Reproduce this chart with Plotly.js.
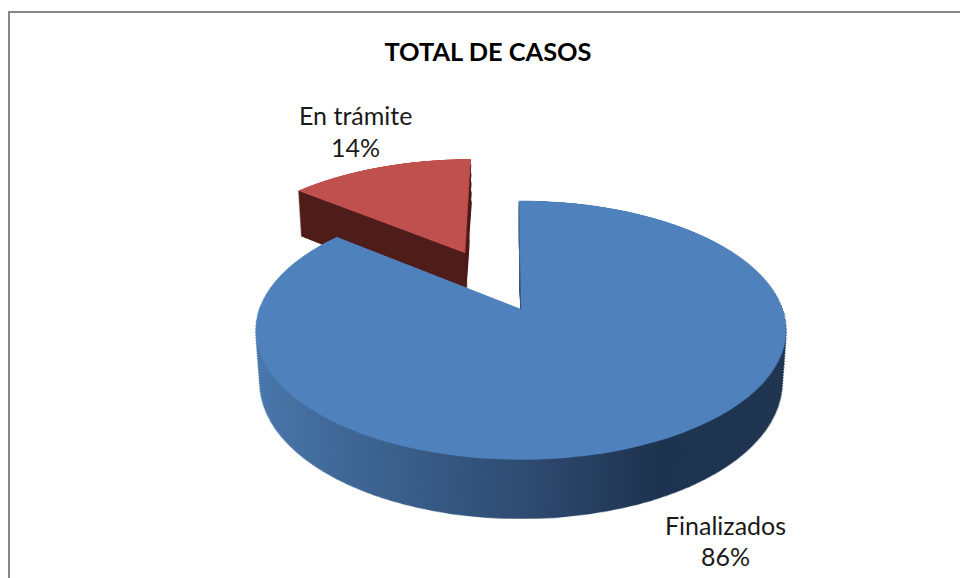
<!DOCTYPE html>
<html>
<head>
<meta charset="utf-8">
<script src="https://cdn.plot.ly/plotly-3.0.1.min.js"></script>
<style>
html,body{margin:0;padding:0;background:#fff;overflow:hidden;width:960px;height:578px}
#stage{position:relative;width:960px;height:578px;overflow:hidden}
#chart{position:absolute;left:0;top:0;width:960px;height:578px}
#pie{position:absolute;width:1000px;height:1000px;pointer-events:none}
</style>
</head>
<body>
<div id="stage"><div id="chart"></div><div id="pie"></div></div>
<script>
// Data
const categories = ["Finalizados", "En trámite"];
const values = [86, 14];
const percentLabels = ["86%", "14%"];
const titleText = "TOTAL DE CASOS";

// Styling
const topColors = ["#4f81bd", "#c0504d"];
const sideColors = ["#2f4c72", "#4f1e1b"];
const pullAmount = [0, 0.53];

// 3D look: the stack of pies is tilted with a CSS perspective
const tipX = 521, tipY = 309;      // screen position of the pie centre
const box = 1000, cx = 500, cy = 420;
const baseSize = 801, layers = 100, depth = 101, shrink = 0.077;
const pieDiv = document.getElementById('pie');
pieDiv.style.left = (tipX - cx) + 'px';
pieDiv.style.top = (tipY - cy) + 'px';
pieDiv.style.transformOrigin = cx + 'px ' + cy + 'px';
pieDiv.style.transform = 'perspective(1403px) rotateX(61.2deg)';

const traces = [];
for (let k = layers; k >= 0; k--) {
  const t = k / layers, s = depth * t, f = 1 - shrink * t, d = baseSize * f;
  traces.push({
    type: 'pie', values: values, labels: categories, sort: false,
    direction: 'clockwise', rotation: -0.5, pull: pullAmount, textinfo: 'none',
    hoverinfo: 'skip', showlegend: false,
    marker: {colors: k === 0 ? topColors : sideColors, line: {width: 0}},
    domain: {
      x: [(cx - d / 2) / box, (cx + d / 2) / box],
      y: [1 - (cy + s + d / 2) / box, 1 - (cy + s - d / 2) / box]
    }
  });
}

const textFont = {family: 'Lato, "Open Sans", sans-serif', size: 25, color: '#1a1a1a'};
const baseLayout = {
  width: 960, height: 578, margin: {l: 0, r: 0, t: 0, b: 0},
  paper_bgcolor: '#ffffff', plot_bgcolor: '#ffffff',
  xaxis: {visible: false, range: [0, 960]},
  yaxis: {visible: false, range: [578, 0]},
  title: {text: '<b>' + titleText + '</b>', x: 488 / 960, xanchor: 'center', xref: 'paper',
          y: 1 - 52 / 578, yanchor: 'middle', yref: 'container',
          font: {family: 'Lato, "Open Sans", sans-serif', size: 25.4, color: '#000000'}},
  showlegend: false,
  shapes: [
    {type: 'line', xref: 'x', yref: 'y', x0: 9, x1: 9, y0: 12, y1: 578, line: {color: '#868686', width: 2}},
    {type: 'line', xref: 'x', yref: 'y', x0: 8, x1: 960, y0: 12, y1: 12, line: {color: '#868686', width: 2}}
  ],
  annotations: [
    {x: 355, y: 115, text: categories[1], showarrow: false, xref: 'x', yref: 'y', font: textFont},
    {x: 355, y: 147, text: percentLabels[1], showarrow: false, xref: 'x', yref: 'y', font: textFont},
    {x: 725, y: 525, text: categories[0], showarrow: false, xref: 'x', yref: 'y', font: textFont},
    {x: 725, y: 556, text: percentLabels[0], showarrow: false, xref: 'x', yref: 'y', font: textFont}
  ]
};
Plotly.newPlot('chart', [{type: 'scatter', x: [], y: [], hoverinfo: 'skip'}], baseLayout,
  {displayModeBar: false, staticPlot: true});

Plotly.newPlot('pie', traces, {
  width: box, height: box, margin: {l: 0, r: 0, t: 0, b: 0},
  paper_bgcolor: 'rgba(0,0,0,0)', plot_bgcolor: 'rgba(0,0,0,0)', showlegend: false
}, {displayModeBar: false, staticPlot: true}).then(function (gd) {
  // Horizontal shading on the outer wall of the big slice
  const svg = gd.querySelector('svg.main-svg');
  const ns = 'http://www.w3.org/2000/svg';
  const defs = document.createElementNS(ns, 'defs');
  const grad = document.createElementNS(ns, 'linearGradient');
  grad.setAttribute('id', 'wallShade');
  [[0, '#4a79ae'], [0.14, '#436d9e'], [0.3, '#3a5f8b'], [0.5, '#2f4c72'], [0.72, '#1e3350'], [1, '#1f3551']]
    .forEach(function (st) {
      const e = document.createElementNS(ns, 'stop');
      e.setAttribute('offset', st[0]);
      e.setAttribute('stop-color', st[1]);
      grad.appendChild(e);
    });
  defs.appendChild(grad);
  svg.insertBefore(defs, svg.firstChild);
  const groups = gd.querySelectorAll('.pielayer .trace');
  groups.forEach(function (g, i) {
    if (i === groups.length - 1) return;
    const slice = g.querySelector('.slice path');
    if (slice) slice.style.fill = 'url(#wallShade)';
  });
});
</script>
</body>
</html>
